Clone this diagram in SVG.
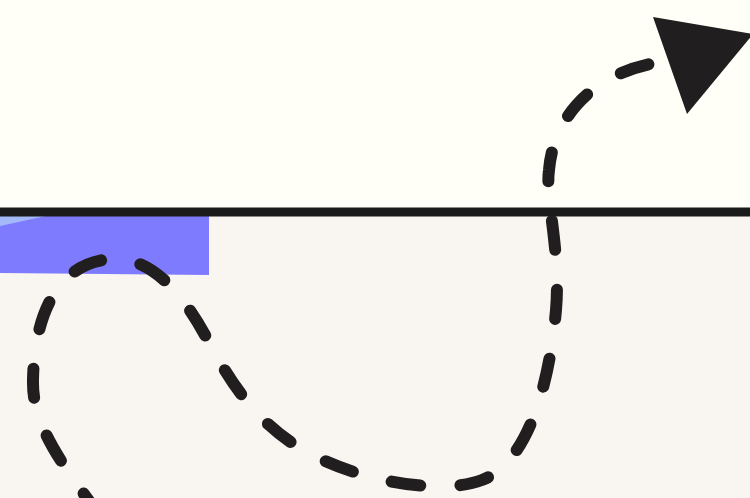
<svg xmlns="http://www.w3.org/2000/svg" width="750" height="498" viewBox="0 0 750 498">
  <style>
    .conn { fill: none; stroke: #211e1f; stroke-width: 12; stroke-linecap: round; stroke-dasharray: 29 40; stroke-dashoffset: 15; }
    .head { fill: #211e1f; }
  </style>
  <g id="background">
    <rect x="0" y="0" width="750" height="212" fill="#fffef7"/>
    <rect x="0" y="212" width="750" height="286" fill="#f9f6f1"/>
  </g>
  <g id="block">
    <polygon points="0,216 209,216 209,275 0,273" fill="#7f7bff"/>
    <polygon points="0,216 46,216 0,226" fill="#a4b9f7"/>
  </g>
  <g id="divider">
    <rect x="0" y="207.5" width="750" height="9" fill="#1b1b1b"/>
  </g>
  <g id="connectors">
    <path class="conn" d="M 92 505 C 55 455, 32 420, 33 380 C 34 320, 55 262, 112 259 C 150 257, 180 290, 205 335 C 220 362, 245 415, 300 448 C 355 481, 440 496, 482 480 C 522 465, 548 400, 556 310 C 561 250, 545 200, 549 170 C 553 120, 590 75, 655 63"/>
    <polygon class="head" points="653,17 753,34 687,114"/>
  </g>
</svg>
